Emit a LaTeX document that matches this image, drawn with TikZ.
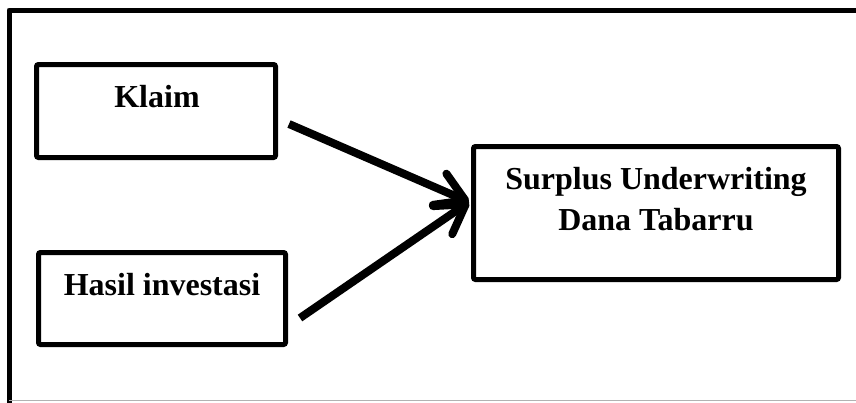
\documentclass[tikz,border=0pt]{standalone}
\usepackage{fontspec}
\setmainfont{Liberation Serif}
\usetikzlibrary{arrows.meta}
\begin{document}
\begin{tikzpicture}[x=0.5pt,y=-0.5pt,
  box/.style={draw=black,line width=2.5pt,rounded corners=1pt,minimum width=#1,inner sep=0pt},
  lbl/.style={font=\fontsize{16}{20.5}\selectfont\bfseries,inner sep=0pt,anchor=base},
  conn/.style={line width=4pt,-{Straight Barb[length=14pt,width=17pt,round]}}]
\useasboundingbox (0,0) rectangle (856,402);
\fill[white] (0,0) rectangle (856,402);
% outer frame
\draw[line width=2.5pt,line join=round] (9,410) -- (9,10) -- (870,10);
\draw[gray!60,line width=0.5pt] (9,400.5) -- (856,400.5);
% boxes
\node[box=119.5pt,minimum height=46.5pt] (klaim) at (156,111) {};
\node[box=123.5pt,minimum height=46pt] (hasil) at (162,298.5) {};
\node[box=182.5pt,minimum height=66.5pt] (surplus) at (656,213) {};
% labels
\node[lbl] (klaimtxt) at (157,107) {Klaim};
\node[lbl] (hasiltxt) at (162,295) {Hasil investasi};
\node[lbl] (surplustxt1) at (656,189) {Surplus Underwriting};
\node[lbl] (surplustxt2) at (656,230) {Dana Tabarru};
% connectors
\coordinate (s1) at (289,124);
\coordinate (s2) at (300,318);
\coordinate (tip) at (469,202);
\draw[conn] (s1) -- (tip);
\draw[conn] (s2) -- (tip);
\end{tikzpicture}
\end{document}
